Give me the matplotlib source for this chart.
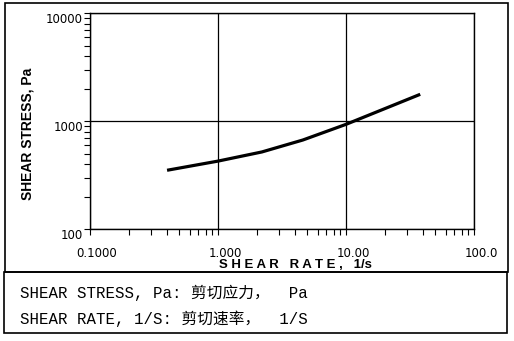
import matplotlib
matplotlib.use("Agg")
import matplotlib.pyplot as plt
import matplotlib.transforms as mtransforms
from matplotlib.patches import Rectangle

# flow curve: shear rate (1/s) vs shear stress (Pa)
shear_rate = [0.40, 1.0, 2.2, 4.6, 10.0, 38.0]
shear_stress = [352, 428, 520, 671, 937, 1778]

x_ticks = [0.1, 1, 10, 100]
x_tick_labels = ["0.1000", "1.000", "10.00", "100.0"]
y_ticks = [100, 1000, 10000]
y_tick_labels = ["100", "1000", "10000"]

notes = ["SHEAR STRESS, Pa: 剪切应力，  Pa",
         "SHEAR RATE, 1/S: 剪切速率，  1/S"]

W, H = 514, 341
fig = plt.figure(figsize=(W / 100, H / 100), dpi=100)
ax = fig.add_axes([90 / W, 1 - 229.3 / H, 384 / W, 216 / H])

ax.plot(shear_rate, shear_stress, color="black", lw=2.3, solid_capstyle="butt")

ax.set_xscale("log")
ax.set_yscale("log")
ax.set_xlim(0.1, 100)
ax.set_ylim(100, 10000)

ax.set_xticks(x_ticks)
ax.set_xticklabels(x_tick_labels, family="DejaVu Sans", fontsize=8.5)
ax.set_yticks(y_ticks)
ax.set_yticklabels(y_tick_labels, family="DejaVu Sans", fontsize=8.5)
ax.tick_params(which="both", direction="out", length=4, width=0.8, color="black")
ax.tick_params(axis="x", pad=9)
ax.tick_params(axis="y", pad=1)

# nudge tick labels like the original software output
dx = mtransforms.ScaledTranslation(7 / 100, 0, fig.dpi_scale_trans)
for lab in ax.get_xticklabels():
    lab.set_transform(lab.get_transform() + dx)
dy = mtransforms.ScaledTranslation(0, -5 / 100, fig.dpi_scale_trans)
for lab in ax.get_yticklabels():
    lab.set_transform(lab.get_transform() + dy)

ax.grid(True, which="major", color="black", lw=0.9)
for s in ax.spines.values():
    s.set_linewidth(1.0)

fig.text(27 / W, 1 - 133.5 / H, "SHEAR STRESS, Pa", fontsize=10, fontweight="bold",
         family="Liberation Sans", rotation=90, ha="center", va="center")
fig.text(295 / W, 1 - 265 / H, "S H E A R   R A T E ,   1/s", fontsize=9.5,
         fontweight="bold", family="Liberation Sans", ha="center", va="center")

# frames around chart and legend notes
fig.add_artist(Rectangle((5 / W, 1 - 272 / H), 503 / W, 269 / H,
                         transform=fig.transFigure, fill=False, lw=1.2, color="black"))
fig.add_artist(Rectangle((4 / W, 1 - 333 / H), 503 / W, 61 / H,
                         transform=fig.transFigure, fill=False, lw=1.2, color="black"))

for i, line in enumerate(notes):
    fig.text(20 / W, 1 - (293 + 25.5 * i) / H, line, fontsize=11.3,
             family=["Liberation Mono", "Noto Sans CJK SC"], va="center", ha="left")

fig.savefig("out.png", dpi=100)
